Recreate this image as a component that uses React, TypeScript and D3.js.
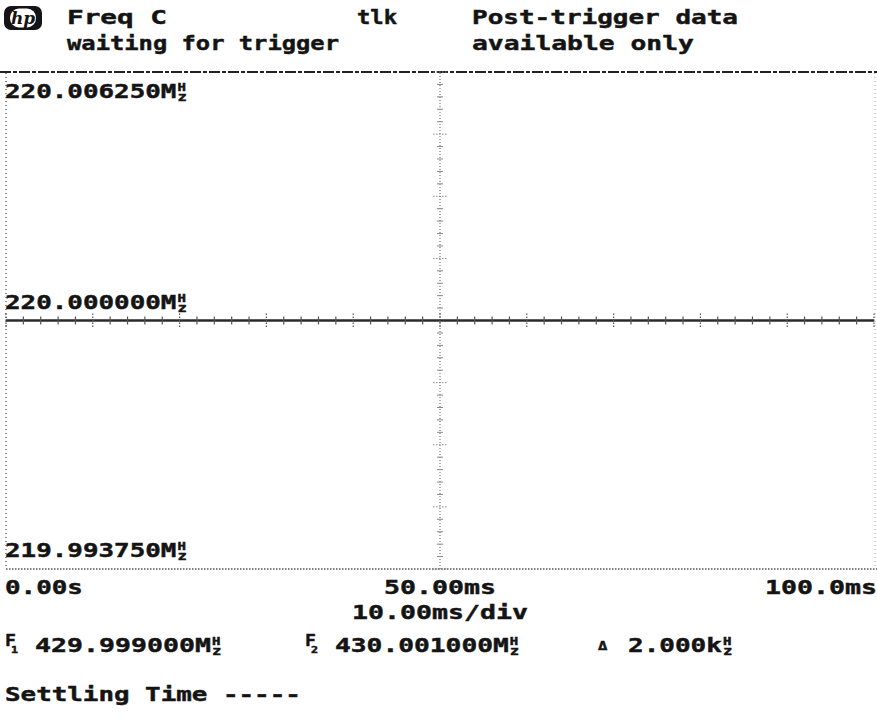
import React from 'react';
import * as d3 from 'd3';

// screen of an HP frequency/time analyzer, Freq C vs time
const headerLeft = ['Freq C', 'waiting for trigger'];
const headerMid = 'tlk';
const headerRight = ['Post-trigger data', 'available only'];

const freqTop = 220.00625;     // MHz
const freqCenter = 220.0;
const freqBottom = 219.99375;
const freqLabels = ['220.006250', '220.000000', '219.993750'];

const timeStart = 0;           // ms
const timeEnd = 100;
const timeLabels = ['0.00s', '50.00ms', '100.0ms'];
const timePerDiv = '10.00ms/div';

const traceTimes = [0, 100];
const traceMHz = [220.0, 220.0];

const marker1 = '429.999000';
const marker2 = '430.001000';
const markerDelta = '2.000';
const settling = 'Settling Time -----';

const W = 877, H = 721;
const FS = 20;
const INK = '#141414';

// monospace text stretched to a given advance width
function Txt({ x, y, s, w, anchor = 'start', size = FS, sx }: any) {
  const k = sx ?? (w ? w / (s.length * 0.602 * size) : 1.3);
  return (
    <text transform={`translate(${x},${y}) scale(${k},1)`} textAnchor={anchor}
      fontFamily="DejaVu Sans Mono" fontWeight="bold" fontSize={size} fill={INK}
      stroke={INK} strokeWidth={0.45}>{s}</text>
  );
}

// stacked little "H over z" in one character cell
function Hz({ x, y }: any) {
  return (
    <g>
      <Txt x={x + 1} y={y - 7} s="H" size={10} sx={1.4} />
      <Txt x={x + 1} y={y + 3} s="z" size={12} sx={1.3} />
    </g>
  );
}

export default function App() {
  const x = d3.scaleLinear().domain([timeStart, timeEnd]).range([6, 874]);
  const y = d3.scaleLinear().domain([freqBottom, freqTop]).range([569, 72]);

  const xDiv = d3.range(0, 10.01, 0.2).map(d => timeStart + d * (timeEnd - timeStart) / 10);
  const yDiv = d3.range(0, 8.01, 0.2).map(d => freqBottom + d * (freqTop - freqBottom) / 8);

  const line = d3.line<number>().x((d, i) => x(traceTimes[i])).y(d => y(d));
  const cx = x((timeStart + timeEnd) / 2);
  const cy = y(freqCenter);

  const label = (s: string, xx: number, yy: number, pitch: number) => (
    <g>
      <Txt x={xx} y={yy} s={s + 'M'} w={(s.length + 1) * pitch} />
      <Hz x={xx + (s.length + 1) * pitch} y={yy} />
    </g>
  );

  return (
    <svg width={W} height={H} style={{ position: 'absolute', left: 0, top: 0, background: '#fff' }}>
      {/* hp logo */}
      <g>
        <rect x={4} y={6} width={38} height={24} rx={7} fill={INK} />
        <rect x={10} y={8.5} width={26} height={19} rx={9} fill="#fff" />
        <text x={23} y={24} textAnchor="middle" fontFamily="DejaVu Serif" fontStyle="italic"
          fontWeight="bold" fontSize={17} fill={INK}>hp</text>
      </g>

      <Txt x={67} y={24} s={headerLeft[0]} w={100} />
      <Txt x={357} y={24} s={headerMid} w={40} />
      <Txt x={472} y={24} s={headerRight[0]} w={266} />
      <Txt x={67} y={50} s={headerLeft[1]} w={272} />
      <Txt x={472} y={50} s={headerRight[1]} w={222} />

      {/* frame */}
      <line x1={0} x2={W} y1={72} y2={72} stroke="#222" strokeWidth={2} strokeDasharray="11,2,4,2" />
      <line x1={6} x2={6} y1={73} y2={569} stroke="#666" strokeWidth={1.5} strokeDasharray="1,3" />
      <line x1={875} x2={875} y1={73} y2={569} stroke="#aaa" strokeWidth={1} strokeDasharray="1,3" />
      <line x1={6} x2={W} y1={569} y2={569} stroke="#555" strokeWidth={1.5} strokeDasharray="1.5,1.5" />

      {/* centre graticule, vertical */}
      <line x1={cx} x2={cx} y1={73} y2={569} stroke="#777" strokeWidth={1.2} strokeDasharray="1,2" />
      {yDiv.map((d, i) => {
        const major = i % 5 === 0;
        const half = major ? 7 : 3;
        return <line key={'yt' + i} x1={cx - half} x2={cx + half} y1={y(d)} y2={y(d)}
          stroke="#888" strokeWidth={1} strokeDasharray={major ? '1.5,1.5' : undefined} />;
      })}

      {/* trace */}
      <path d={line(traceMHz) || ''} fill="none" stroke="#2a2a2a" strokeWidth={2.4} />
      {xDiv.map((d, i) => {
        const major = i % 5 === 0;
        const half = major ? 7 : 4;
        return <line key={'xt' + i} x1={x(d)} x2={x(d)} y1={cy - half} y2={cy + half}
          stroke="#555" strokeWidth={1.2} strokeDasharray={major ? '1.5,1.5' : undefined} />;
      })}

      {/* frequency labels */}
      {label(freqLabels[0], 5, y(freqTop) + 26, 15.6)}
      {label(freqLabels[1], 5, y(freqCenter) - 12, 15.6)}
      {label(freqLabels[2], 5, y(freqBottom) - 12, 15.6)}

      {/* time labels */}
      <Txt x={x(timeStart) - 1} y={594} s={timeLabels[0]} w={78} />
      <Txt x={x((timeStart + timeEnd) / 2)} y={594} s={timeLabels[1]} w={112} anchor="middle" />
      <Txt x={x(timeEnd) + 3} y={594} s={timeLabels[2]} w={112} anchor="end" />
      <Txt x={cx} y={619} s={timePerDiv} w={176} anchor="middle" />

      {/* markers */}
      <Txt x={5} y={646} s="F" size={15} sx={1.2} />
      <Txt x={11} y={653} s="1" size={9} sx={1.3} />
      {label(marker1, 35, 652, 16)}
      <Txt x={305} y={646} s="F" size={15} sx={1.2} />
      <Txt x={311} y={653} s="2" size={9} sx={1.3} />
      {label(marker2, 335, 652, 15.8)}
      <Txt x={598} y={650} s={'\u0394'} size={12} sx={1.3} />
      <g>
        <Txt x={628} y={652} s={markerDelta + 'k'} w={94} />
        <Hz x={722} y={652} />
      </g>

      <Txt x={5} y={701} s={settling} w={296} />
    </svg>
  );
}
